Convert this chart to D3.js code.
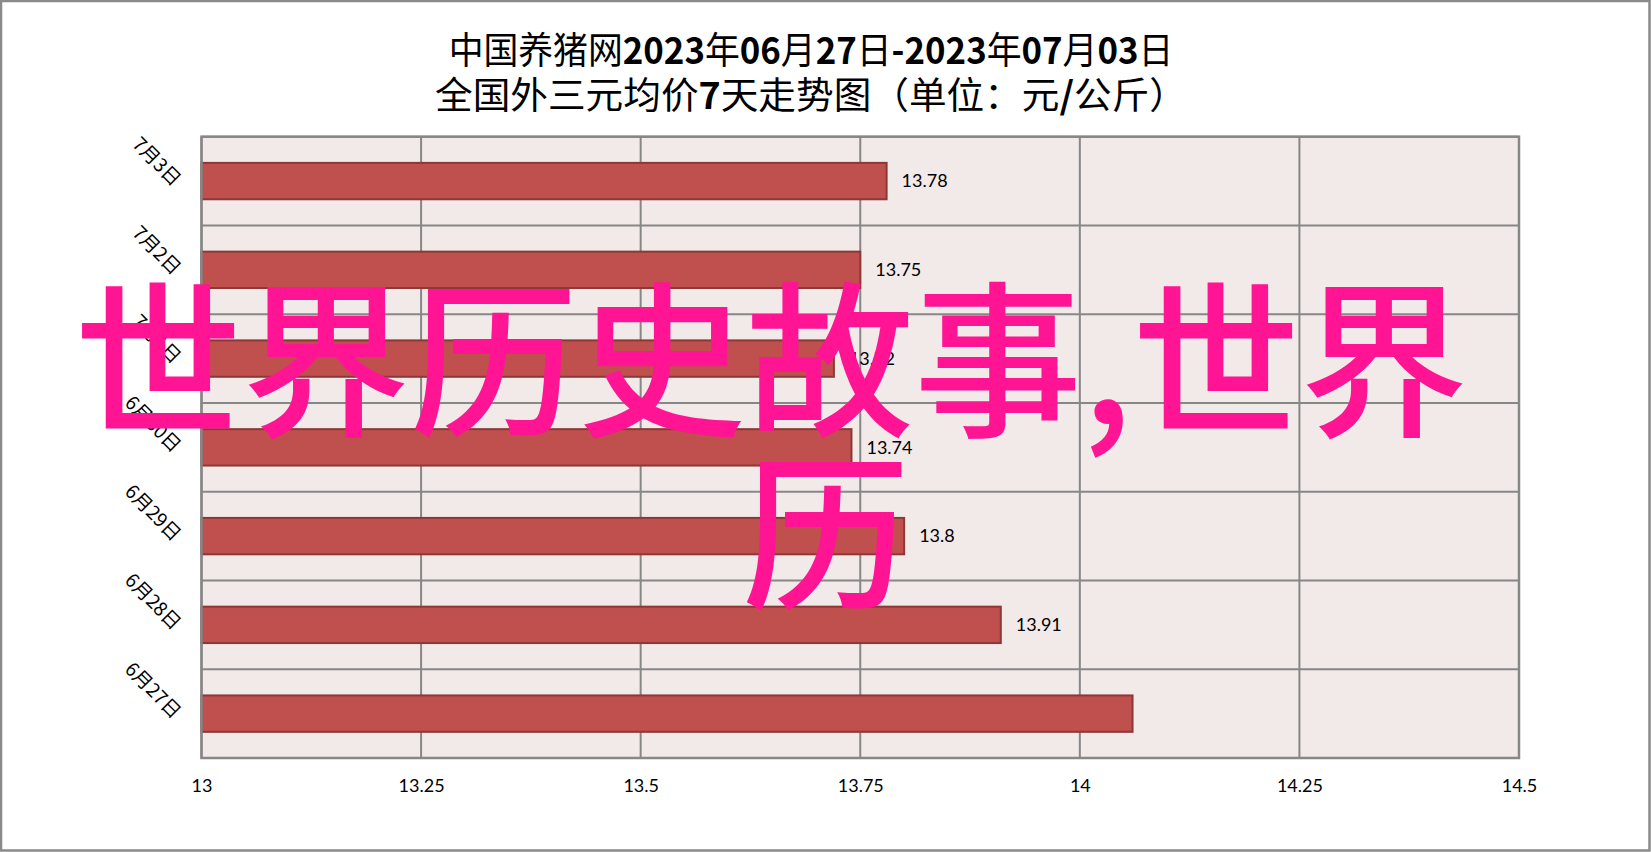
<!DOCTYPE html>
<html>
<head>
<meta charset="utf-8">
<script src="https://cdn.jsdelivr.net/npm/d3@7"></script>
<style>
  html, body { margin: 0; padding: 0; background: #fff; }
  svg { display: block; }
</style>
</head>
<body>
<svg id="chart" width="1651" height="852"></svg>
<script>
// ---- data ----
const categories = ["7月3日", "7月2日", "7月1日", "6月30日", "6月29日", "6月28日", "6月27日"];
const values = [13.78, 13.75, 13.72, 13.74, 13.8, 13.91, 14.06];
const valueLabels = ["13.78", "13.75", "13.72", "13.74", "13.8", "13.91", ""];
const xTicks = [13, 13.25, 13.5, 13.75, 14, 14.25, 14.5];
const xTickLabels = ["13", "13.25", "13.5", "13.75", "14", "14.25", "14.5"];
const titleLine1 = [["中国养猪网", false], ["2023", true], ["年", false], ["06", true], ["月", false], ["27", true], ["日", false], ["-2023", true], ["年", false], ["07", true], ["月", false], ["03", true], ["日", false]];
const titleLine2 = [["全国外三元均价", false], ["7", true], ["天走势图（单位：元", false], ["/", true], ["公斤）", false]];
const watermark1 = "世界历史故事,世界";
const watermark2 = "历";

// ---- layout ----
const svg = d3.select("#chart");
const W = 1651, H = 852;
const plot = { left: 201.5, right: 1519, top: 136.7, bottom: 758 };

svg.append("rect").attr("x", 1).attr("y", 1).attr("width", W - 2.5).attr("height", H - 2.5)
  .attr("fill", "#fff").attr("stroke", "#8a8a8a").attr("stroke-width", 2.5);

const x = d3.scaleLinear().domain([13, 14.5]).range([plot.left, plot.right]);
const y = d3.scaleBand().domain(categories).range([plot.top, plot.bottom])
  .paddingInner(0.59).paddingOuter(0.295);

// plot background
svg.append("rect").attr("x", plot.left).attr("y", plot.top)
  .attr("width", plot.right - plot.left).attr("height", plot.bottom - plot.top)
  .attr("fill", "#f2e9e9");

const grid = svg.append("g").attr("stroke", "#878787").attr("stroke-width", 2);
// vertical gridlines
grid.selectAll("line.v").data(xTicks).join("line").attr("class", "v")
  .attr("x1", d => x(d)).attr("x2", d => x(d))
  .attr("y1", plot.top).attr("y2", plot.bottom);
// horizontal gridlines at band boundaries
const step = y.step();
const bounds = d3.range(categories.length + 1).map(i => plot.top + i * step);
grid.selectAll("line.h").data(bounds).join("line").attr("class", "h")
  .attr("x1", plot.left).attr("x2", plot.right)
  .attr("y1", d => d).attr("y2", d => d);

// bars
svg.append("g").selectAll("rect").data(categories).join("rect")
  .attr("x", x(13))
  .attr("y", d => y(d))
  .attr("width", (d, i) => x(values[i]) - x(13))
  .attr("height", y.bandwidth())
  .attr("fill", "#c0504d")
  .attr("stroke", "#8c3836")
  .attr("stroke-width", 2);

// plot frame
svg.append("rect").attr("x", plot.left).attr("y", plot.top)
  .attr("width", plot.right - plot.left).attr("height", plot.bottom - plot.top)
  .attr("fill", "none").attr("stroke", "#878787").attr("stroke-width", 2.5);

// value labels
svg.append("g").selectAll("text").data(categories).join("text")
  .attr("x", (d, i) => x(values[i]) + 15)
  .attr("y", d => y(d) + y.bandwidth() / 2)
  .attr("dy", "0.35em")
  .attr("font-family", "Lato, 'Open Sans', sans-serif")
  .attr("font-size", 18)
  .attr("fill", "#000")
  .text((d, i) => valueLabels[i]);

// x axis labels
const xAxis = d3.axisBottom(x).tickValues(xTicks).tickSize(0)
  .tickFormat((d, i) => xTickLabels[i]);
const xg = svg.append("g").attr("transform", `translate(0,${plot.bottom})`).call(xAxis);
xg.select(".domain").remove();
xg.selectAll("text").attr("font-family", "Lato, 'Open Sans', sans-serif")
  .attr("font-size", 18).attr("fill", "#000").attr("dy", null).attr("y", 34);

// y axis category labels (rotated 45deg)
svg.append("g").selectAll("text").data(categories).join("text")
  .attr("transform", d => `translate(173,${y(d) + y.bandwidth() / 2 + 6}) rotate(45)`)
  .attr("text-anchor", "end")
  .attr("font-family", "'Noto Sans CJK SC', sans-serif")
  .attr("font-size", 19)
  .attr("fill", "#000")
  .text(d => d);

// title
function scaledTitle(parts, cx, by, fontSize, targetWidth) {
  const t = svg.append("text")
    .attr("font-family", "'Noto Sans CJK SC', sans-serif")
    .attr("font-size", fontSize).attr("fill", "#000");
  parts.forEach(p => t.append("tspan").attr("font-weight", p[1] ? "bold" : "normal").text(p[0]));
  const w = t.node().getComputedTextLength();
  const s = targetWidth / w;
  t.attr("text-anchor", "middle").attr("transform", `translate(${cx},${by}) scale(${s},1)`);
}
scaledTitle(titleLine1, 811, 64, 37, 725);
scaledTitle(titleLine2, 811, 109, 37, 752);

// watermark
const wm = svg.append("g").attr("fill", "#ff1493")
  .attr("font-family", "'Noto Sans CJK SC', sans-serif")
  .attr("font-weight", 500).attr("font-size", 168);
wm.append("text").attr("x", 74).attr("y", 424).text(watermark1);
wm.append("text").attr("x", 826).attr("y", 597).attr("text-anchor", "middle").text(watermark2);
</script>
</body>
</html>
